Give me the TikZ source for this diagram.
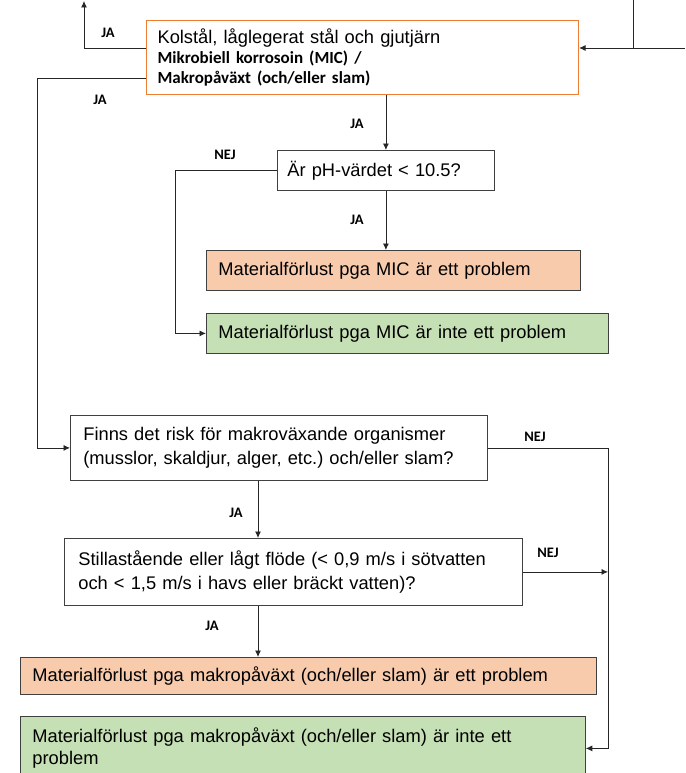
\documentclass[tikz,border=0pt]{standalone}
\usepackage{fontspec}
\setmainfont{Liberation Sans}
\newfontfamily\calib{Carlito}
\usetikzlibrary{arrows.meta}
\definecolor{peach}{HTML}{F8CBAD}
\definecolor{lgreen}{HTML}{C5E0B4}
\definecolor{orangeb}{HTML}{ED7D31}
\definecolor{bord}{HTML}{404040}
\frenchspacing
\begin{document}
\begin{tikzpicture}[x=1pt,y=-1pt,
  bx/.style={draw=bord, line width=0.8pt, anchor=north west, inner ysep=0pt, align=left,
    font=\frenchspacing\fontsize{18.3}{24}\selectfont},
  arr/.style={draw=black!85, line width=0.8pt, -{Latex[length=6.5pt,width=6pt]}},
  ln/.style={draw=black!85, line width=0.8pt},
  lbl/.style={font=\calib\bfseries\fontsize{14.5}{16}\selectfont, inner sep=0pt}]
\path[use as bounding box] (0,0) rectangle (685,773);

\node[bx, draw=orangeb, line width=1.1pt, minimum width=432, minimum height=74, text width=410, inner xsep=11,
  font=\fontsize{18.3}{20}\selectfont] (kol) at (146,20)
  {Kolstål, låglegerat stål och gjutjärn\\
   {\calib\bfseries\fontsize{17}{20}\selectfont Mikrobiell korrosoin (MIC) /}\\
   {\calib\bfseries\fontsize{17}{20}\selectfont Makropåväxt (och/eller slam)}};

\node[bx, minimum width=217, minimum height=40, text width=197, inner xsep=10] (ph) at (277,150)
  {Är pH-värdet < 10.5?};
\node[bx, fill=peach, minimum width=374, minimum height=40, text width=350, inner xsep=12] (mic1) at (206,250)
  {Materialförlust pga MIC är ett problem};
\node[bx, fill=lgreen, minimum width=402, minimum height=40, text width=378, inner xsep=12] (mic2) at (206,313)
  {Materialförlust pga MIC är inte ett problem};
\node[bx, minimum width=417, minimum height=65, text width=391, inner xsep=13] (finns) at (70,415)
  {Finns det risk för makroväxande organismer\\(musslor, skaldjur, alger, etc.) och/eller slam?};
\node[bx, minimum width=458, minimum height=67, text width=430, inner xsep=14] (stilla) at (64,538)
  {Stillastående eller lågt flöde (< 0,9 m/s i sötvatten\\och < 1,5 m/s i havs eller bräckt vatten)?};
\node[bx, fill=peach, minimum width=576, minimum height=37, text width=552, inner xsep=12] (mak1) at (20,657)
  {Materialförlust pga makropåväxt (och/eller slam) är ett problem};
\node[bx, fill=lgreen, minimum width=565, minimum height=64, text width=541, inner xsep=12,
  font=\fontsize{18.3}{22}\selectfont] (mak2) at (20,716)
  {Materialförlust pga makropåväxt (och/eller slam) är inte ett\\problem};

% coordinates for free ends and routing
\coordinate (tl) at (84,1);
\coordinate (tly) at (84,48);
\coordinate (lx) at (37,78);
\coordinate (re) at (685,48);
\coordinate (rt) at (633,0);
\coordinate (nx) at (175,0);
\coordinate (jx) at (258,0);
\coordinate (rx) at (608,0);

% connectors
\draw[arr] (kol.west |- tly) -- (tly) -- (tl);
\draw[arr] (kol.west |- lx) -- (lx) |- (finns.west);
\draw[arr] (re) -- (kol.east |- re);
\draw[ln] (rt) -- (rt |- re);
\draw[arr] (ph.north |- kol.south) -- (ph.north);
\draw[arr] (ph.south) -- (ph.south |- mic1.north);
\draw[arr] (ph.west) -| (nx |- mic2.west) -- (mic2.west);
\draw[arr] (jx |- finns.south) -- (jx |- stilla.north);
\draw[arr] (jx |- stilla.south) -- (jx |- mak1.north);
\draw[arr] (finns.east) -| (rx |- mak2.east) -- (mak2.east);
\draw[arr] (stilla.east) -- (rx |- stilla.east);

% labels
\node[lbl] (l1) at (108,33) {JA};
\node[lbl] (l2) at (100,100) {JA};
\node[lbl] (l3) at (357,124) {JA};
\node[lbl] (l4) at (225,155) {NEJ};
\node[lbl] (l5) at (357,220) {JA};
\node[lbl] (l6) at (535,437) {NEJ};
\node[lbl] (l7) at (236,513) {JA};
\node[lbl] (l8) at (548,553) {NEJ};
\node[lbl] (l9) at (212,626) {JA};
\end{tikzpicture}
\end{document}
